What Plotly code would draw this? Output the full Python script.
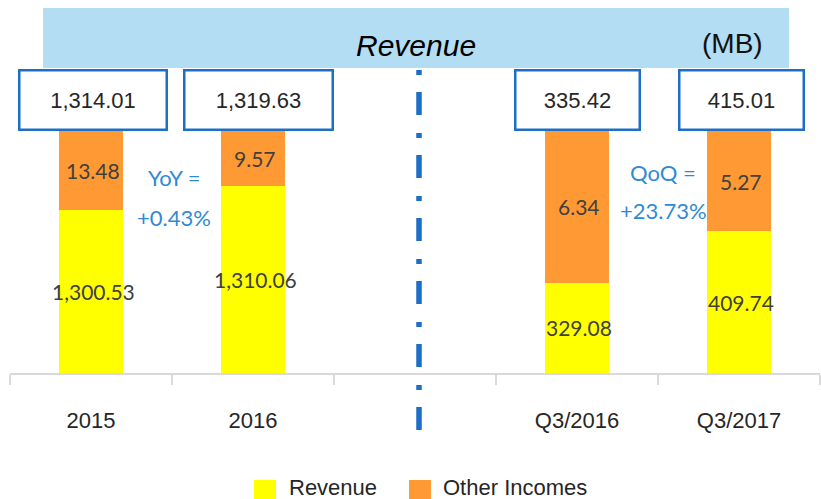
import plotly.graph_objects as go

# ---- data ----
categories = ["2015", "2016", " ", "Q3/2016", "Q3/2017"]
revenue = [1300.53, 1310.06, None, 329.08, 409.74]
other_incomes = [13.48, 9.57, None, 6.34, 5.27]
totals = [1314.01, 1319.63, None, 335.42, 415.01]
# drawn share of each bar (the original chart is not to scale)
revenue_share = [67.2, 77.2, None, 37.3, 58.5]
other_share = [32.8, 22.8, None, 62.7, 41.5]
yoy_text = ["YoY =", "+0.43%"]
qoq_text = ["QoQ =", "+23.73%"]
series_names = ["Revenue", "Other Incomes"]

YELLOW = "#FFFF00"
ORANGE = "#FF9933"
BLUE_LINE = "#1C6EC6"
BLUE_TEXT = "#2F8AD6"
BANNER = "#B3DDF2"
DARK = "#262626"
LABEL = "#404040"
ARIAL = "Arial, Liberation Sans, sans-serif"
CAL = "Lato, Open Sans, sans-serif"

W, H = 821, 499
ML, MR, MT, MB = 10, 1, 131, 126
PW = W - ML - MR
PH = H - MT - MB


def px_x(px):
    return (px - ML) / PW


def px_y(py):
    return (H - MB - py) / PH


fig = go.Figure()
fig.add_trace(go.Bar(x=categories, y=revenue_share, name=series_names[0],
                     marker=dict(color=YELLOW, line=dict(width=0)), showlegend=False,
                     hoverinfo="skip"))
fig.add_trace(go.Bar(x=categories, y=other_share, name=series_names[1],
                     marker=dict(color=ORANGE, line=dict(width=0)), showlegend=False,
                     hoverinfo="skip"))

annotations = []
shapes = []

# segment value labels
for i, c in enumerate(categories):
    if revenue[i] is None:
        continue
    annotations.append(dict(x=i, y=revenue_share[i] / 2, xref="x", yref="y",
                            text=f"{revenue[i]:,.2f}", showarrow=False,
                            font=dict(family=CAL, size=21, color=LABEL),
                            xanchor="center", yanchor="middle", xshift=2))
    annotations.append(dict(x=i, y=revenue_share[i] + other_share[i] / 2, xref="x", yref="y",
                            text=f"{other_incomes[i]:,.2f}", showarrow=False,
                            font=dict(family=CAL, size=21, color=LABEL),
                            xanchor="center", yanchor="middle", xshift=2))

# total boxes
box_w = [145, 146, 122, 122]
box_shift = [2, 5, 0, 2]
k = 0
for i, c in enumerate(categories):
    if totals[i] is None:
        continue
    annotations.append(dict(x=i, y=px_y(100), xref="x", yref="paper",
                            text=f"{totals[i]:,.2f}", showarrow=False,
                            font=dict(family=ARIAL, size=22, color=DARK),
                            width=box_w[k], height=57, borderpad=0,
                            bordercolor=BLUE_LINE, borderwidth=2.5, bgcolor="white",
                            xanchor="center", yanchor="middle", xshift=box_shift[k]))
    k += 1

# YoY / QoQ
for x, ys, txt, xs in [(0.5, (177, 217), yoy_text, 2), (3.5, (172, 210), qoq_text, 5)]:
    for yy, t in zip(ys, txt):
        annotations.append(dict(x=x, y=px_y(yy), xref="x", yref="paper", text=t,
                                showarrow=False,
                                font=dict(family=CAL, size=22, color=BLUE_TEXT),
                                xanchor="center", yanchor="middle", xshift=xs))

# banner
shapes.append(dict(type="rect", xref="paper", yref="paper",
                   x0=px_x(43), x1=px_x(789), y0=px_y(68), y1=px_y(8),
                   fillcolor=BANNER, line=dict(width=0), layer="below"))
annotations.append(dict(x=px_x(416), y=px_y(46), xref="paper", yref="paper",
                        text="<i>Revenue</i>", showarrow=False,
                        font=dict(family=ARIAL, size=30, color="#000000"),
                        xanchor="center", yanchor="middle"))
annotations.append(dict(x=px_x(732), y=px_y(43), xref="paper", yref="paper",
                        text="(MB)", showarrow=False,
                        font=dict(family=ARIAL, size=28, color="#111111"),
                        xanchor="center", yanchor="middle"))

# dash-dot separator
shapes.append(dict(type="line", xref="paper", yref="paper",
                   x0=px_x(419), x1=px_x(419), y0=px_y(70), y1=px_y(432),
                   line=dict(color=BLUE_LINE, width=5.5, dash="5px,17px,23px,18px")))

# manual legend
leg = [(254, 287, YELLOW, series_names[0]), (409, 441, ORANGE, series_names[1])]
for sx, tx, col, name in leg:
    shapes.append(dict(type="rect", xref="paper", yref="paper",
                       x0=px_x(sx), x1=px_x(sx + 22), y0=px_y(480), y1=px_y(502),
                       fillcolor=col, line=dict(width=0)))
    annotations.append(dict(x=px_x(tx), y=px_y(487), xref="paper", yref="paper",
                            text=name, showarrow=False,
                            font=dict(family=ARIAL, size=22, color=DARK),
                            xanchor="left", yanchor="middle"))

fig.update_layout(
    width=W, height=H,
    margin=dict(l=ML, r=MR, t=MT, b=MB),
    paper_bgcolor="white", plot_bgcolor="white",
    barmode="stack", bargap=0.6,
    showlegend=False,
    annotations=annotations, shapes=shapes,
    xaxis=dict(type="category", categoryorder="array", categoryarray=categories,
               range=[-0.5, 4.5], showgrid=False, zeroline=False,
               showline=True, linecolor="#D9D9D9", linewidth=1.5,
               ticks="outside", tickson="boundaries", ticklen=10, tickcolor="#D9D9D9",
               tickwidth=1.5, ticklabelstandoff=27,
               tickfont=dict(family=ARIAL, size=22, color=DARK)),
    yaxis=dict(range=[0, 100], visible=False, showgrid=False, zeroline=False),
)

fig.write_html("out.html", config={"displayModeBar": False},
               post_script="document.body.style.margin='0px';document.body.style.overflow='hidden';")
